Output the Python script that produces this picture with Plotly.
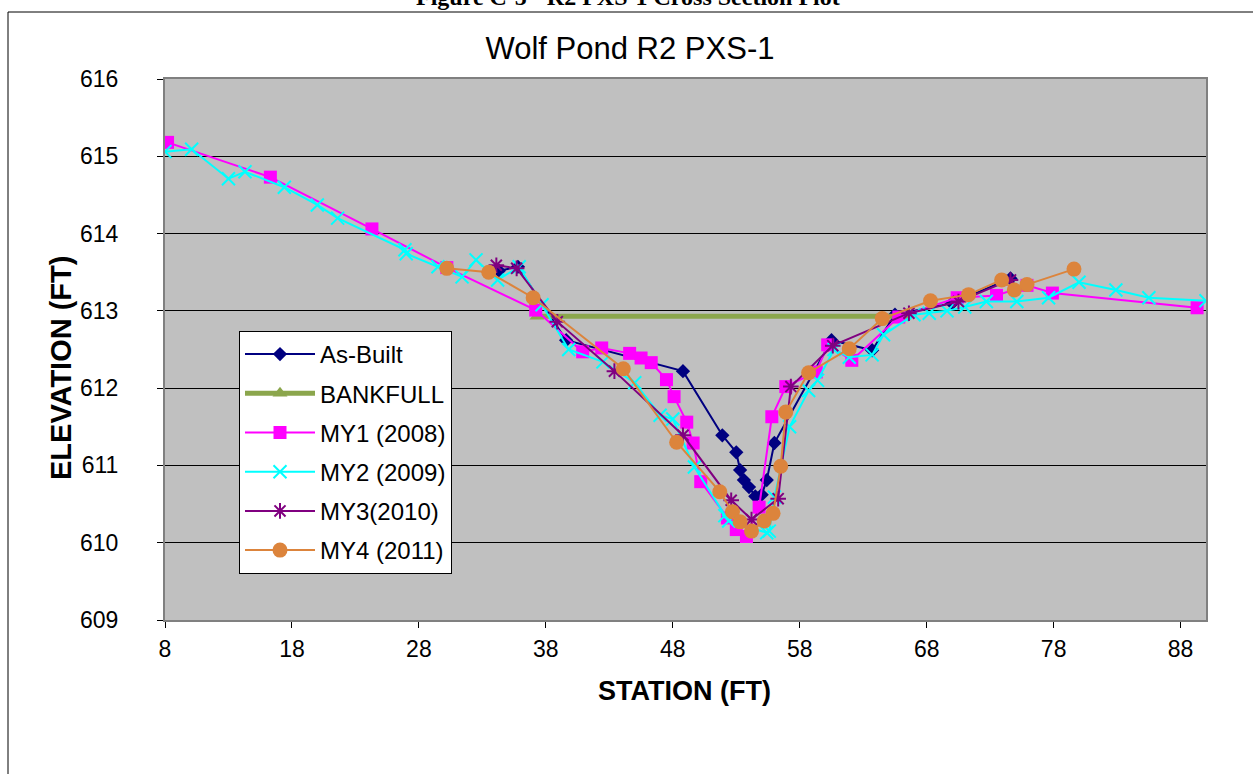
import plotly.graph_objects as go

# ---------------- data ----------------
asbuilt_x = [34.3, 35.8, 39.6, 48.8, 51.9, 53.0, 53.3, 53.6, 54.0, 54.5, 55.0, 55.4, 56.0, 60.5, 63.7, 65.5, 70.0, 74.6]
asbuilt_y = [613.52, 613.57, 612.62, 612.22, 611.39, 611.17, 610.94, 610.81, 610.72, 610.60, 610.62, 610.81, 611.29, 612.62, 612.49, 612.95, 613.10, 613.42]

bank_x = [37.3, 66.2]
bank_y = [612.93, 612.93]

my1_x = [8.2, 16.3, 24.3, 30.2, 37.2, 40.9, 42.4, 44.6, 45.5, 46.3, 47.5, 48.1, 49.1, 49.6, 50.2, 52.3, 53.0, 53.8,
         54.8, 55.8, 56.9, 59.3, 60.2, 62.1, 65.8, 70.4, 73.5, 75.9, 77.9, 89.3]
my1_y = [615.18, 614.73, 614.06, 613.56, 613.01, 612.47, 612.52, 612.45, 612.39, 612.33, 612.11, 611.89, 611.56, 611.29,
         610.79, 610.32, 610.17, 610.08, 610.46, 611.63, 612.02, 612.21, 612.56, 612.36, 612.92, 613.17, 613.20, 613.33,
         613.23, 613.04]

my2_x = [8.0, 10.1, 13.0, 14.3, 17.4, 20.0, 21.6, 26.9, 27.0, 29.5, 31.4, 32.5, 34.2, 35.9, 37.7, 39.8, 42.5, 45.0,
         47.0, 48.0, 49.7, 52.1, 52.4, 55.4, 55.6, 56.0, 57.2, 58.7, 59.4, 60.7, 61.9, 63.7, 64.6, 67.0, 68.2, 69.6,
         71.0, 72.7, 75.1, 77.6, 80.0, 82.9, 85.5, 90.0]
my2_y = [615.06, 615.09, 614.71, 614.80, 614.60, 614.37, 614.20, 613.79, 613.74, 613.57, 613.44, 613.66, 613.40, 613.57,
         613.08, 612.50, 612.34, 612.07, 611.65, 611.60, 610.98, 610.35, 610.28, 610.13, 610.15, 610.59, 611.50, 611.97,
         612.10, 612.50, 612.40, 612.43, 612.69, 612.95, 612.97, 613.00, 613.05, 613.12, 613.12, 613.17, 613.37, 613.27,
         613.17, 613.13]

my3_x = [34.1, 35.7, 38.9, 43.4, 48.8, 52.6, 54.2, 56.3, 57.3, 60.6, 66.6, 70.5, 74.6]
my3_y = [613.59, 613.55, 612.86, 612.22, 611.39, 610.55, 610.30, 610.57, 612.02, 612.55, 612.97, 613.12, 613.40]

my4_x = [30.2, 33.5, 37.0, 44.1, 48.3, 51.7, 52.7, 53.3, 54.2, 55.2, 55.9, 56.5, 56.9, 58.7, 61.9, 64.5, 68.3, 71.3,
         73.9, 74.9, 75.9, 79.6]
my4_y = [613.55, 613.50, 613.17, 612.25, 611.30, 610.66, 610.40, 610.27, 610.15, 610.28, 610.38, 610.99, 611.69, 612.20,
         612.51, 612.90, 613.13, 613.21, 613.40, 613.27, 613.34, 613.54]

x_ticks = [8, 18, 28, 38, 48, 58, 68, 78, 88]
y_ticks = [609, 610, 611, 612, 613, 614, 615, 616]

FONT = "Arial, 'Liberation Sans', sans-serif"

fig = go.Figure()
fig.add_trace(go.Scatter(x=asbuilt_x, y=asbuilt_y, name="As-Built", mode="lines+markers", legendgroup="a",
                         line=dict(color="#000080", width=2),
                         marker=dict(symbol="diamond", size=11, color="#000080")))
fig.add_trace(go.Scatter(x=bank_x, y=bank_y, name="BANKFULL", mode="lines+markers", legendgroup="b",
                         line=dict(color="#8BA64C", width=5),
                         marker=dict(symbol="triangle-up", size=13, color="#8BA64C")))
fig.add_trace(go.Scatter(x=my1_x, y=my1_y, name="MY1 (2008)", mode="lines+markers", legendgroup="c",
                         line=dict(color="#FF00FF", width=2),
                         marker=dict(symbol="square", size=13, color="#FF00FF")))
fig.add_trace(go.Scatter(x=my2_x, y=my2_y, name="MY2 (2009)", mode="lines+markers", legendgroup="d",
                         line=dict(color="#00FFFF", width=2),
                         marker=dict(symbol="x-thin", size=13, color="#00FFFF",
                                     line=dict(color="#00FFFF", width=2))))
fig.add_trace(go.Scatter(x=my3_x, y=my3_y, name="MY3(2010)", mode="lines+markers", legendgroup="e",
                         line=dict(color="#800080", width=2),
                         marker=dict(symbol="asterisk", size=13, color="#800080",
                                     line=dict(color="#800080", width=2))))
fig.add_trace(go.Scatter(x=my4_x, y=my4_y, name="MY4 (2011)", mode="lines+markers", legendgroup="f",
                         line=dict(color="#DC843C", width=2),
                         marker=dict(symbol="circle", size=15, color="#DC843C")))

W, H = 1253, 774
L, R, T, B = 165, 1206, 79, 620


def px_x(p):
    return (p - L) / (R - L)


def px_y(p):
    return (B - p) / (B - T)


fig.update_layout(
    width=W, height=H,
    margin=dict(l=L, r=W - R, t=T, b=H - B, pad=0),
    paper_bgcolor="white",
    plot_bgcolor="#C0C0C0",
    font=dict(family=FONT, size=22, color="black"),
    title=dict(text="Wolf Pond R2 PXS-1", x=630 / W, xref="container", xanchor="center",
               y=1 - 48 / H, yref="container", yanchor="middle",
               font=dict(family=FONT, size=31, color="black")),
    xaxis=dict(range=[8, 90], tickvals=x_ticks, ticks="outside", ticklen=6, tickcolor="black",
               ticklabelstandoff=1,
               showgrid=False, zeroline=False, showline=True, linecolor="#808080", linewidth=2, mirror=True,
               tickfont=dict(family=FONT, size=23)),
    yaxis=dict(range=[609, 616], tickvals=y_ticks, ticks="outside", ticklen=6, tickcolor="black",
               ticklabelstandoff=34,
               showgrid=True, gridcolor="black", gridwidth=1, zeroline=False,
               showline=True, linecolor="#808080", linewidth=2, mirror=True,
               tickfont=dict(family=FONT, size=23)),
    legend=dict(x=px_x(239), y=px_y(331), xanchor="left", yanchor="top",
                bgcolor="white", bordercolor="black", borderwidth=1,
                font=dict(family=FONT, size=24), traceorder="grouped", tracegroupgap=5,
                itemwidth=70),
    showlegend=True,
)

# axis titles
fig.add_annotation(text="<b>STATION (FT)</b>", xref="paper", yref="paper", x=px_x(684), y=px_y(691),
                   xanchor="center", yanchor="middle", showarrow=False,
                   font=dict(family=FONT, size=27, color="black"))
fig.add_annotation(text="<b>ELEVATION (FT)</b>", xref="paper", yref="paper", x=px_x(61), y=px_y(368),
                   xanchor="center", yanchor="middle", showarrow=False, textangle=-90,
                   font=dict(family=FONT, size=29, color="black"))

# outer chart frame lines and cut-off heading
fig.add_shape(type="line", xref="paper", yref="paper", x0=px_x(8), x1=px_x(1253), y0=px_y(12), y1=px_y(12),
              line=dict(color="black", width=1))
fig.add_shape(type="line", xref="paper", yref="paper", x0=px_x(8), x1=px_x(8), y0=px_y(12), y1=px_y(774),
              line=dict(color="black", width=1))
fig.add_annotation(text="<b>Figure C-5 - R2 PXS-1 Cross Section Plot</b>", xref="paper", yref="paper",
                   x=px_x(628), y=px_y(12), xanchor="center", yanchor="bottom", showarrow=False,
                   font=dict(family="'Liberation Serif', 'Times New Roman', serif", size=24, color="black"))

fig.write_html("out.html")
